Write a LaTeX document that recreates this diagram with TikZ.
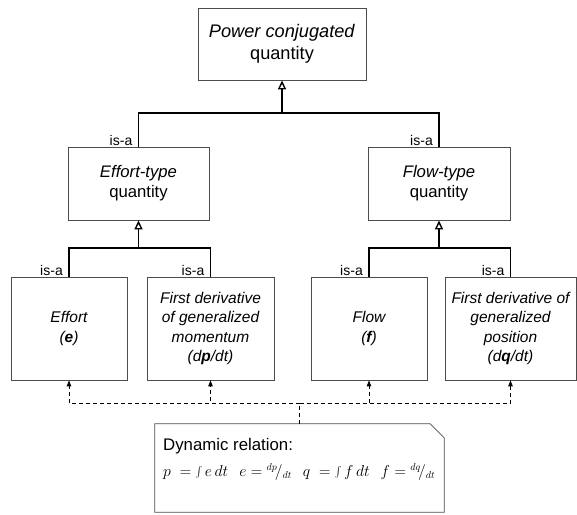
\documentclass[tikz,border=0pt]{standalone}
\usepackage[no-math]{fontspec}
\setmainfont{Liberation Sans}
\usetikzlibrary{arrows.meta}
\newcommand{\tallint}{\mathop{\vcenter{\hbox{\scalebox{1.1}[1.15]{$\int$}}}}\nolimits}

\begin{document}
\begin{tikzpicture}[x=1pt, y=-1pt,
    box/.style={draw=black!70, line width=0.8pt, align=center, inner sep=0pt, font=\fontsize{16.7}{20}\selectfont},
    leafbox/.style={box, minimum height=103pt, font=\fontsize{15.5}{19.5}\selectfont\itshape},
    tree/.style={line width=1.8pt},
    isa/.style={line width=1.8pt, -{Triangle[open, length=9pt, width=8pt, line width=1.4pt]}},
    dep/.style={line width=0.9pt, dash pattern=on 4pt off 3pt, -{Triangle[length=6pt, width=4.5pt]}},
    lbl/.style={font=\fontsize{14}{16}\selectfont, inner sep=1pt}]
    \useasboundingbox (0,0) rectangle (577,514);

    \node[box, minimum width=168pt, minimum height=72pt, font=\fontsize{18.2}{22}\selectfont] (power) at (282,44) {\textit{Power conjugated}\\quantity};

    \node[box, minimum width=141pt, minimum height=73pt] (efftype) at (138.5,183.5) {\textit{Effort-type}\\quantity};
    \node[box, minimum width=142pt, minimum height=73pt] (flowtype) at (439,183.5) {\textit{Flow-type}\\quantity};

    \node[leafbox, minimum width=116pt] (effort) at (69,328.5) {Effort\\(\textbf{e})};
    \node[leafbox, minimum width=127pt] (dpdt) at (210.5,328.5) {First derivative\\of generalized\\momentum\\(d\textbf{p}/dt)};
    \node[leafbox, minimum width=116pt] (flow) at (369,328.5) {Flow\\(\textbf{f})};
    \node[leafbox, minimum width=131pt] (dqdt) at (510.5,328.5) {First derivative of\\generalized\\position\\(d\textbf{q}/dt)};

    \foreach \n in {efftype,flowtype,effort,dpdt,flow,dqdt}
        \node[lbl, anchor=south east] (isa-\n) at ([xshift=-5pt]\n.north) {is-a};

    \coordinate (top) at (282,113);
    \coordinate (left) at (138.5,248);
    \coordinate (right) at (439,248);
    \draw[tree] (efftype.north) |- (top) -| (flowtype.north);
    \draw[isa] (top) -- (power.south);
    \draw[tree] (effort.north) |- (left) -| (dpdt.north);
    \draw[isa] (left) -- (efftype.south);
    \draw[tree] (flow.north) |- (right) -| (dqdt.north);
    \draw[isa] (right) -- (flowtype.south);

    \node[minimum width=289pt, minimum height=88pt, inner sep=0pt] (note) at (299.5,468) {};
    \draw[draw=black!70, line width=0.8pt] (note.north west) -- ([xshift=-14pt]note.north east) -- ([yshift=-14pt]note.north east) -- (note.south east) -- (note.south west) -- cycle;
    \node[anchor=base west, inner sep=0pt, font=\fontsize{16.8}{19}\selectfont] (dyn) at (163,450) {Dynamic relation:};
    \node[anchor=base west, inner sep=0pt, font=\fontsize{16}{18}\selectfont] (rel) at (163,476)
        {\raisebox{0pt}[11pt][5pt]{\resizebox{272pt}{!}{$p\;=\tallint e\,dt\hspace{12pt} e={}^{dp}\!/_{dt}\hspace{12pt} q\;=\tallint f\,dt\hspace{12pt} f={}^{dq}\!/_{dt}$}}};

    \coordinate (mid) at (note.north |- 0,403);
    \draw[line width=1.8pt, dash pattern=on 4pt off 3pt] (note.north) -- (mid);
    \foreach \n in {effort,dpdt,flow,dqdt}
        \draw[dep] (mid) -| (\n.south);
\end{tikzpicture}
\end{document}
